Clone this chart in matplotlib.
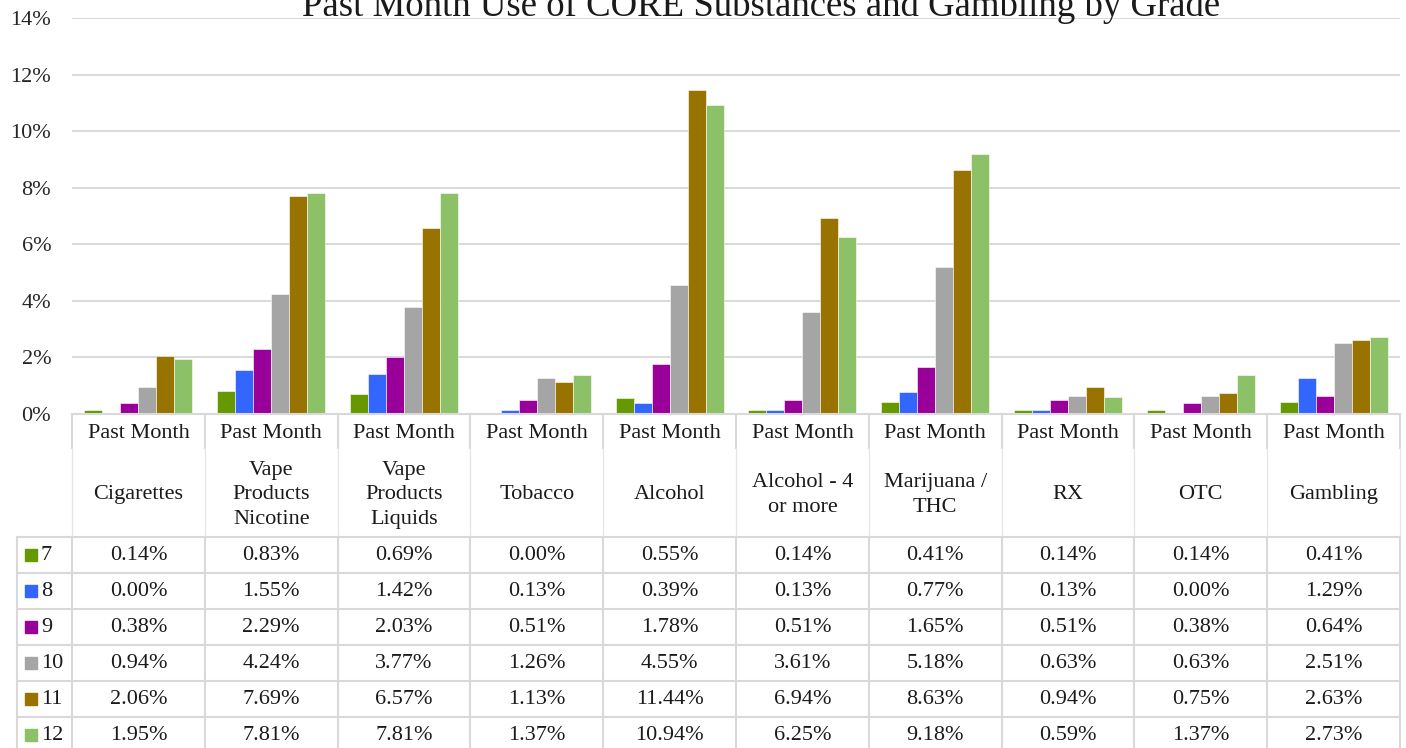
import matplotlib.pyplot as plt
from matplotlib.patches import Rectangle
import numpy as np

plt.rcParams['font.family'] = ['Liberation Serif', 'DejaVu Serif']

title = 'Past Month Use of CORE Substances and Gambling by Grade'
header_top = 'Past Month'
categories = ['Cigarettes', 'Vape\nProducts\nNicotine', 'Vape\nProducts\nLiquids', 'Tobacco',
              'Alcohol', 'Alcohol - 4\nor more', 'Marijuana /\nTHC', 'RX', 'OTC', 'Gambling']
grades = ['7', '8', '9', '10', '11', '12']

grade7 = [0.14, 0.83, 0.69, 0.00, 0.55, 0.14, 0.41, 0.14, 0.14, 0.41]
grade8 = [0.00, 1.55, 1.42, 0.13, 0.39, 0.13, 0.77, 0.13, 0.00, 1.29]
grade9 = [0.38, 2.29, 2.03, 0.51, 1.78, 0.51, 1.65, 0.51, 0.38, 0.64]
grade10 = [0.94, 4.24, 3.77, 1.26, 4.55, 3.61, 5.18, 0.63, 0.63, 2.51]
grade11 = [2.06, 7.69, 6.57, 1.13, 11.44, 6.94, 8.63, 0.94, 0.75, 2.63]
grade12 = [1.95, 7.81, 7.81, 1.37, 10.94, 6.25, 9.18, 0.59, 1.37, 2.73]
series = [grade7, grade8, grade9, grade10, grade11, grade12]

colors = ['#669900', '#3366FF', '#990099', '#A5A5A5', '#997300', '#8CC168']
grid_color = '#D9D9D9'
txt = '#1a1a1a'
fs = 16
W, H = 1406, 748

fig = plt.figure(figsize=(W / 100, H / 100), dpi=100)

# bar area (pixel layout of the reference)
left, right, top, base = 72, 1400, 18, 414
ax = fig.add_axes([left / W, 1 - base / H, (right - left) / W, (base - top) / H])
n = len(categories)
x = np.arange(n)
bw = 0.1355
for i, vals in enumerate(series):
    ax.bar(x + (i - 2.5) * bw, vals, bw, color=colors[i], edgecolor='white',
           linewidth=0.4, zorder=3)
ax.set_xlim(-0.5, n - 0.5)
ax.set_ylim(0, 14)
ax.set_yticks(range(0, 15, 2))
ax.set_yticklabels([f'{t}%' for t in range(0, 15, 2)], fontsize=fs, color='#262626')
ax.set_xticks([])
ax.tick_params(axis='y', length=0, pad=15)
ax.grid(axis='y', color=grid_color, linewidth=1.4, zorder=0)
for s in ax.spines.values():
    s.set_visible(False)

# title is partly cut off at the top, as in the reference
fig.text(761 / W, 1 - 15.7 / H, title, ha='center', va='baseline', fontsize=26.5, color=txt)

# data table below the bars
col_w = (right - left) / n
leg_w = (left - 17) / col_w
head_h, row_h = 123, 36
tab_h = head_h + row_h * len(grades)
tax = fig.add_axes([17 / W, 1 - (base + tab_h) / H, (right - 17) / W, tab_h / H])
tax.set_xlim(-0.5 - leg_w, n - 0.5)
tax.set_ylim(tab_h, 0)
tax.axis('off')

lw = 1.5
tax.plot([-0.5, n - 0.5], [0, 0], color=grid_color, lw=lw, clip_on=False)
for r in range(len(grades) + 1):
    y = head_h + r * row_h
    tax.plot([-0.5 - leg_w, n - 0.5], [y, y], color=grid_color, lw=lw, clip_on=False)
for k in range(n + 1):
    xv = -0.5 + k
    tax.plot([xv, xv], [0, 34], color=grid_color, lw=lw, clip_on=False)
    tax.plot([xv, xv], [34, head_h], color='#E6E6E6', lw=0.9, clip_on=False)
    tax.plot([xv, xv], [head_h, tab_h], color=grid_color, lw=lw, clip_on=False)
tax.plot([-0.5 - leg_w] * 2, [head_h, tab_h], color=grid_color, lw=lw, clip_on=False)

for j, cat in enumerate(categories):
    tax.text(j, 20, header_top, ha='center', va='center', fontsize=fs, color=txt)
    tax.text(j, 81, cat, ha='center', va='center', fontsize=fs, color=txt,
             linespacing=1.38)

for i, g in enumerate(grades):
    yc = head_h + (i + 0.5) * row_h
    x0 = -0.5 - leg_w + 8 / col_w
    tax.add_patch(Rectangle((x0, yc - 6), 12 / col_w, 12, color=colors[i]))
    tax.text(x0 + 16 / col_w, yc, g, ha='left', va='center', fontsize=fs, color=txt)
    for j in range(n):
        tax.text(j, yc, f'{series[i][j]:.2f}%', ha='center', va='center',
                 fontsize=fs, color=txt)

fig.savefig('out.png', dpi=100)
